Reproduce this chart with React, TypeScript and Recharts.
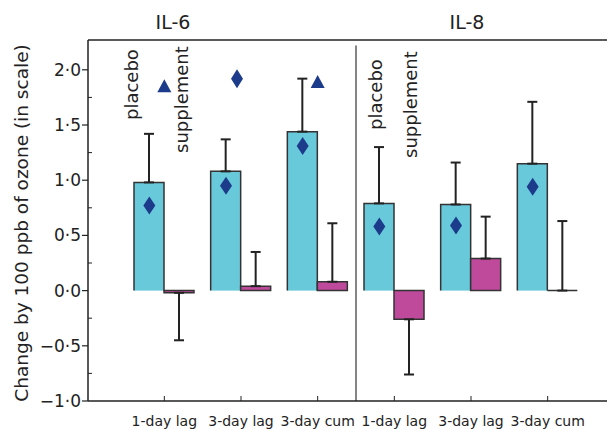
import { ComposedChart, Bar, ErrorBar, Scatter, XAxis, YAxis, ReferenceLine } from 'recharts';

// categories: the same three lags for each panel (IL-6, IL-8)
const categories = ['IL-6 1-day lag', 'IL-6 3-day lag', 'IL-6 3-day cum', 'IL-8 1-day lag', 'IL-8 3-day lag', 'IL-8 3-day cum'];
const tickLabels = ['1-day lag', '3-day lag', '3-day cum', '1-day lag', '3-day lag', '3-day cum'];
const placebo = [0.98, 1.08, 1.44, 0.79, 0.78, 1.15];
const placeboErr = [0.44, 0.29, 0.48, 0.51, 0.38, 0.56];
const supplement = [-0.02, 0.04, 0.08, -0.26, 0.29, 0.0];
const supplementErr = [0.43, 0.31, 0.53, 0.5, 0.38, 0.63];
const placeboMarker = [0.77, 0.95, 1.31, 0.58, 0.59, 0.94];
const topTriangle = [1.85, null, 1.89, null, null, null];
const topDiamond = [null, 1.92, null, null, null, null];
const yTicks = [-1, -0.75, -0.5, -0.25, 0, 0.25, 0.5, 0.75, 1, 1.25, 1.5, 1.75, 2];

const BAR = 30;
const INK = '#222';

const data = categories.map((cat, i) => ({
  cat,
  placebo: placebo[i],
  placeboErr: [0, placeboErr[i]],
  supplement: supplement[i],
  supplementErr: supplement[i] < 0 ? [supplementErr[i], 0] : [0, supplementErr[i]],
  inner: placeboMarker[i],
  tri: topTriangle[i],
  dia: topDiamond[i],
}));

const fmt = (v: number) => v.toFixed(1).replace('.', '·').replace('-', '\u2212');

function YTick({ x, y, payload }: any) {
  const v = payload.value;
  const major = Math.abs(v * 2 - Math.round(v * 2)) < 1e-6;
  if (!major) return <line x1={x} x2={x + 4} y1={y} y2={y} stroke={INK} />;
  return (
    <g>
      <line x1={x - 6} x2={x} y1={y} y2={y} stroke={INK} strokeWidth={1.2} />
      <text x={x - 7} y={y} dy={6} textAnchor="end" fontSize={17} fill={INK}>{fmt(v)}</text>
    </g>
  );
}

function XTick({ x, y, payload }: any) {
  const i = categories.indexOf(payload.value);
  return (
    <g>
      <line x1={x} x2={x} y1={y} y2={y - 5} stroke={INK} />
      <text x={x} y={y + 25} textAnchor="middle" fontSize={14} fill={INK}>{tickLabels[i]}</text>
    </g>
  );
}

function BarShape(props: any) {
  const { x, y, width, height, fill, open } = props;
  const top = Math.min(y, y + height);
  const h = Math.abs(height);
  const outline = open && height >= 0
    ? `M${x},${top + h}L${x},${top}L${x + width},${top}L${x + width},${top + h}`
    : `M${x},${top}L${x + width},${top}L${x + width},${top + h}L${x},${top + h}Z`;
  return (
    <g>
      <rect x={x} y={top} width={width} height={h} fill={fill} />
      <path d={outline} fill="none" stroke="#333" strokeWidth={1.5} />
    </g>
  );
}

function Diamond({ cx, cy, w, h }: any) {
  return <path d={`M${cx},${cy - h / 2}L${cx + w / 2},${cy}L${cx},${cy + h / 2}L${cx - w / 2},${cy}Z`} fill="#1d3b8b" />;
}

export default function App() {
  return (
    <div style={{ position: 'absolute', left: 0, top: 0, width: 607, height: 430, background: '#fff', fontFamily: '"DejaVu Sans", sans-serif' }}>
      <ComposedChart width={607} height={430} data={data} margin={{ top: 40, right: 0, bottom: 0, left: 0 }} barSize={BAR} barGap={0}>
        <XAxis
          dataKey="cat"
          interval={0}
          height={29}
          padding={{ left: 38, right: 21 }}
          tickLine={false}
          tickSize={0}
          tickMargin={0}
          tick={<XTick />}
          axisLine={{ stroke: INK, strokeWidth: 1.5 }}
        />
        <YAxis
          width={88}
          domain={[-1, 2.27]}
          ticks={yTicks}
          interval={0}
          tickLine={false}
          tickSize={0}
          tickMargin={0}
          tick={<YTick />}
          axisLine={{ stroke: INK, strokeWidth: 1.5 }}
        />
        <ReferenceLine y={2.27} stroke={INK} strokeWidth={1.5} />
        <ReferenceLine
          segment={[{ x: categories[2], y: -1 }, { x: categories[2], y: 2.22 }]}
          position="end"
          stroke="#333"
          strokeWidth={1.2}
        />
        <Bar dataKey="placebo" fill="#68c9da" isAnimationActive={false} shape={(p: any) => <BarShape {...p} open />}>
          <ErrorBar dataKey="placeboErr" width={5} stroke={INK} strokeWidth={2} />
        </Bar>
        <Bar dataKey="supplement" fill="#bf4a9c" isAnimationActive={false} shape={(p: any) => <BarShape {...p} />}>
          <ErrorBar dataKey="supplementErr" width={5} stroke={INK} strokeWidth={2} />
        </Bar>
        <Scatter
          dataKey="inner"
          isAnimationActive={false}
          shape={(p: any) => (p.payload?.inner == null ? <g /> : <Diamond cx={p.cx - BAR / 2} cy={p.cy} w={12} h={18} />)}
        />
        <Scatter
          dataKey="dia"
          isAnimationActive={false}
          shape={(p: any) => (p.payload?.dia == null || !isFinite(p.cy) ? <g /> : <Diamond cx={p.cx - 4} cy={p.cy} w={12} h={19} />)}
        />
        <Scatter
          dataKey="tri"
          isAnimationActive={false}
          shape={(p: any) =>
            p.payload?.tri == null || !isFinite(p.cy) ? (
              <g />
            ) : (
              <path d={`M${p.cx},${p.cy - 7}L${p.cx + 7},${p.cy + 6}L${p.cx - 7},${p.cy + 6}Z`} fill="#1d3b8b" />
            )
          }
        />
      </ComposedChart>
      <svg width={607} height={430} style={{ position: 'absolute', left: 0, top: 0, pointerEvents: 'none' }}>
        <g fill={INK}>
          <text x={173} y={29} textAnchor="middle" fontSize={19}>IL-6</text>
          <text x={467} y={29} textAnchor="middle" fontSize={19}>IL-8</text>
          <text transform="translate(28,223) rotate(-90)" textAnchor="middle" fontSize={18.5}>Change by 100 ppb of ozone (in scale)</text>
          <text transform="translate(138,120) rotate(-90)" fontSize={18}>placebo</text>
          <text transform="translate(188,153) rotate(-90)" fontSize={18}>supplement</text>
          <text transform="translate(382,130) rotate(-90)" fontSize={18}>placebo</text>
          <text transform="translate(417,158) rotate(-90)" fontSize={18}>supplement</text>
        </g>
      </svg>
    </div>
  );
}
